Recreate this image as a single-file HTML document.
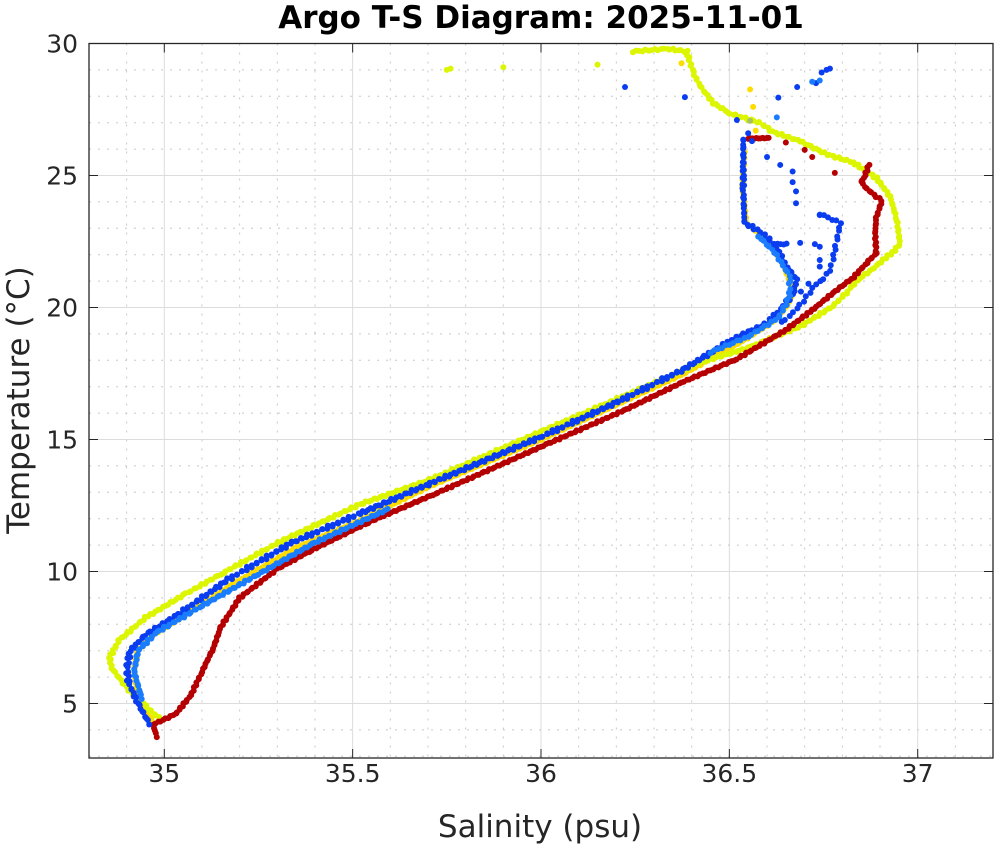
<!DOCTYPE html>
<html><head><meta charset="utf-8"><style>
body{margin:0;background:#fff;}
svg{display:block;font-family:"DejaVu Sans","Liberation Sans",sans-serif;}
</style></head><body>
<svg id="s" width="997" height="846" xmlns="http://www.w3.org/2000/svg">
<rect width="997" height="846" fill="#fff"/>
<g id="grid"></g>
<g id="data"></g>
<rect x="89" y="43.5" width="904" height="714.5" fill="none" stroke="#262626" stroke-width="1.3"/>
<g id="ticks"></g>
<text x="541" y="28" text-anchor="middle" font-size="31" font-weight="bold" fill="#000">Argo T-S Diagram: 2025-11-01</text>
<text x="540" y="837" text-anchor="middle" font-size="31" fill="#262626">Salinity (psu)</text>
<text transform="translate(29,400) rotate(-90)" text-anchor="middle" font-size="31" fill="#262626">Temperature (°C)</text>
</svg>
<script>
var NS="http://www.w3.org/2000/svg";
function X(s){return 164.3+(s-35)*376.7;}
function Y(t){return 43.5+(30-t)*26.4;}
function el(p,n,a){var e=document.createElementNS(NS,n);for(var k in a)e.setAttribute(k,a[k]);p.appendChild(e);return e;}
var g=document.getElementById('grid'),tk=document.getElementById('ticks');
for(var i=0;i<=24;i++){var s=34.8+i*0.1,x=X(s);if(x>993)break;var maj=Math.abs(s*2-Math.round(s*2))<1e-6;
 el(g,'line',{x1:x,x2:x,y1:43.5,y2:758,stroke:maj?'#dcdcdc':'#c8c8c8','stroke-width':1,'stroke-dasharray':maj?'':'2,7'});
 if(maj){el(tk,'line',{x1:x,x2:x,y1:758,y2:749,stroke:'#262626'});el(tk,'line',{x1:x,x2:x,y1:43.5,y2:52.5,stroke:'#262626'});
 var t=el(tk,'text',{x:x,y:782,'text-anchor':'middle','font-size':25,fill:'#262626'});t.textContent=(Math.round(s*10)/10).toString();}}
for(var T=3;T<=30;T++){var y=Y(T),maj=T%5==0;
 el(g,'line',{x1:89,x2:993,y1:y,y2:y,stroke:maj?'#dcdcdc':'#c8c8c8','stroke-width':1,'stroke-dasharray':maj?'':'2,7'});
 if(maj){el(tk,'line',{x1:89,x2:98,y1:y,y2:y,stroke:'#262626'});el(tk,'line',{x1:993,x2:984,y1:y,y2:y,stroke:'#262626'});
 var t=el(tk,'text',{x:78,y:y+9,'text-anchor':'end','font-size':25,fill:'#262626'});t.textContent=T;}}
var d=document.getElementById('data');
function path(pts,col,step,jit,r){for(var i=0;i<pts.length-1;i++){var a=pts[i],b=pts[i+1];
 var x1=X(a[0]),y1=Y(a[1]),x2=X(b[0]),y2=Y(b[1]);var L=Math.hypot(x2-x1,y2-y1),n=Math.max(1,Math.round(L/step));
 for(var k=0;k<n;k++){var f=k/n;var jx=(Math.sin(i*7+k*3.1)*jit),jy=(Math.cos(i*5+k*2.3)*jit);
 el(d,'circle',{cx:x1+(x2-x1)*f+jx,cy:y1+(y2-y1)*f+jy,r:r||3,fill:col});}}}
function dots(list,col){list.forEach(function(p){el(d,'circle',{cx:X(p[0]),cy:Y(p[1]),r:3,fill:col});});}
path([[34.97,4.3],[34.93,5.2],[34.92,6.3],[34.93,7],[34.97,7.6],[35.05,8.3],[35.18,9.5],[35.35,10.9],[35.53,12.0],[35.7,13.2],[36.0,15.0],[36.38,17.5],[36.52,18.6],[36.62,19.5],[36.655,20.1],[36.67,20.6],[36.65,21.4],[36.62,22.2],[36.58,22.8],[36.545,23.2],[36.535,24.5],[36.54,26]],'#ffdc00',3,0.5);
var yel=[[36.244,29.7],[36.335,29.8],[36.387,29.7],[36.404,28.9],[36.422,28.4],[36.457,27.75],[36.502,27.35],[36.581,27.0],[36.616,26.65],[36.688,26.3],[36.759,25.8],[36.828,25.5],[36.891,24.9],[36.927,24.2],[36.945,23.3],[36.953,22.4],[36.934,22.1],[36.908,21.8],[36.88,21.45],[36.84,21.05],[36.81,20.55],[36.775,20.05],[36.69,19.3],[36.555,18.5],[36.42,17.9],[36.335,17.35],[36.0,15.3],[35.7,13.45],[35.52,12.55],[35.31,11.15],[35.15,9.9],[35.05,9.1],[34.95,8.25],[34.88,7.4],[34.855,6.75],[34.86,6.35],[34.9,5.6],[34.95,4.9],[34.99,4.4]];
path(yel,'#dcf500',3,0.8);
dots([[35.75,29.0],[35.76,29.05],[35.9,29.1],[36.15,29.2]],'#dcf500');
dots([[36.373,29.25],[36.555,28.26],[36.563,27.6],[36.57,26.7]],'#ffdc00');
dots([[36.555,27.07]],'#a8c060');
var red=[[34.98,3.75],[34.97,4.2],[35.03,4.6],[35.07,5.3],[35.10,6.2],[35.13,7.1],[35.15,7.9],[35.2,9.0],[35.3,10.1],[35.39,10.8],[35.54,11.85],[35.72,12.95],[36.02,14.85],[36.22,16.1],[36.38,17.2],[36.52,18.05],[36.65,19.15],[36.72,19.9],[36.775,20.55],[36.83,21.15],[36.865,21.7],[36.89,22.05],[36.887,22.8],[36.89,23.4],[36.905,24.05],[36.89,24.2],[36.865,24.5],[36.85,24.75],[36.86,25.0],[36.873,25.5]];
path(red,'#b40000',2.8,0.6);
path([[36.55,26.4],[36.61,26.42]],'#b40000',2,0.3);
dots([[36.65,26.25],[36.70,25.97],[36.72,25.7],[36.78,25.1]],'#b40000');
var blu=[[34.96,4.25],[34.93,5.0],[34.905,5.8],[34.9,6.35],[34.91,7.0],[34.95,7.6],[35.04,8.4],[35.17,9.7],[35.34,11.1],[35.52,12.2],[35.7,13.3],[36.0,15.1],[36.2,16.4],[36.377,17.65],[36.51,18.8],[36.6,19.4],[36.645,20.05],[36.67,20.55],[36.679,21.05],[36.652,21.55],[36.616,22.45],[36.573,22.95],[36.54,23.2],[36.537,24.5],[36.537,26.5]];
path(blu,'#0a3cf0',2.8,1.2);
path([[34.94,5.2],[34.92,6.2],[34.93,7.0],[34.98,7.7],[35.1,8.7],[35.25,9.9],[35.4,11.1],[35.6,12.4]],'#1a7cff',3,0.8);
path([[36.45,18.3],[36.55,18.9],[36.63,19.6],[36.66,20.4],[36.66,21.2],[36.62,22.1],[36.57,22.8]],'#1a7cff',4,0.8);
path([[36.62,22.4],[36.66,22.4]],'#0a3cf0',3,0.5);
path([[36.74,23.55],[36.795,23.2],[36.785,22.55],[36.775,21.8],[36.767,21.4],[36.75,21.1],[36.722,20.75],[36.705,20.4],[36.67,19.8],[36.627,19.3]],'#0a3cf0',5,0.8);
dots([[36.74,22.3],[36.74,21.55],[36.74,21.8],[36.71,20.9],[36.69,20.6]],'#0a3cf0');
dots([[36.223,28.35],[36.382,27.97],[36.52,27.1],[36.63,27.95],[36.68,28.35],[36.73,28.5],[36.745,28.9],[36.767,29.05],[36.758,29.0],[36.6,25.7],[36.635,25.4],[36.668,25.15],[36.668,24.75],[36.677,24.4],[36.677,23.95],[36.688,22.45],[36.727,22.4],[36.74,23.5],[36.55,26.6],[36.56,26.3]],'#0a3cf0');
dots([[36.626,27.2],[36.72,28.55],[36.74,28.6]],'#1a7cff');
</script>
</body></html>
